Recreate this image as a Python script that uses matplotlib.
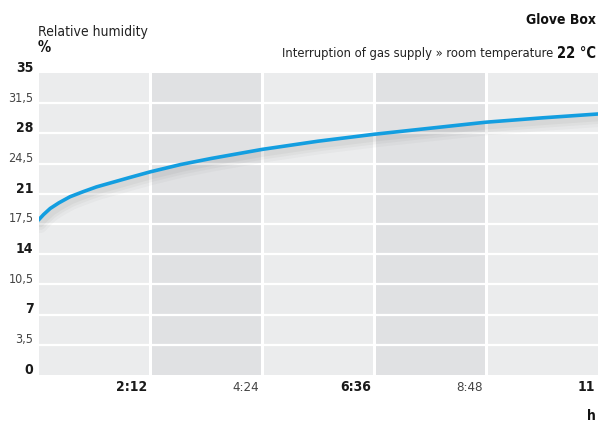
import matplotlib
matplotlib.use("Agg")
import matplotlib.pyplot as plt
import matplotlib.transforms as mtransforms

# values
hours = [0, 0.1, 0.23, 0.4, 0.62, 0.88, 1.14, 1.5, 1.8, 2.2, 2.8, 3.4, 4.4, 5.5, 6.6, 7.7, 8.8, 9.9, 11]
humidity = [17.96, 18.6, 19.3, 19.95, 20.66, 21.25, 21.8, 22.4, 22.9, 23.55, 24.4, 25.1,
            26.15, 27.1, 27.9, 28.6, 29.3, 29.8, 30.25]

y_ticks = [0, 3.5, 7, 10.5, 14, 17.5, 21, 24.5, 28, 31.5, 35]
y_labels = ["0", "3,5", "7", "10,5", "14", "17,5", "21", "24,5", "28", "31,5", "35"]
x_ticks = [2.2, 4.4, 6.6, 8.8, 11.0]
x_labels = ["2:12", "4:24", "6:36", "8:48", "11"]

plt.rcParams['font.family'] = ['DejaVu Sans']
plt.rcParams['font.stretch'] = 'condensed'

fig = plt.figure(figsize=(5.98, 4.23), dpi=100)
ax = fig.add_axes([38.5 / 598, 48 / 423, 1 - 38.5 / 598, 302 / 423])

# alternating column bands
band_edges = [0] + x_ticks
for i in range(len(band_edges) - 1):
    col = "#ebeced" if i % 2 == 0 else "#e0e1e3"
    ax.axvspan(band_edges[i], band_edges[i + 1], color=col, lw=0, zorder=0)

for yv in y_ticks[1:-1]:
    ax.axhline(yv, color="white", lw=1.6, zorder=1)
for xv in x_ticks[:-1]:
    ax.axvline(xv, color="white", lw=2.2, zorder=1)

# soft shadow under the curve
for dy, a, w in [(6, 0.035, 10), (5, 0.045, 7), (4, 0.05, 4.5)]:
    shift = mtransforms.offset_copy(ax.transData, fig=fig, x=2, y=-dy, units="dots")
    ax.plot(hours, humidity, color="#444444", alpha=a, lw=w, solid_capstyle="round",
            zorder=2, transform=shift)
ax.plot(hours, humidity, color="#139ee0", lw=2.6, solid_capstyle="round", zorder=3)

ax.set_xlim(0, 11)
ax.set_ylim(0, 35)
for s in ax.spines.values():
    s.set_visible(False)
ax.set_xticks([])
ax.set_yticks([])

# y tick labels, bold for the integer ones
for yv, lab in zip(y_ticks, y_labels):
    bold = "," not in lab
    ax.text(-0.1, yv + 0.6, lab, ha="right", va="center", fontsize=10 if bold else 9,
            fontweight="bold" if bold else "normal", color="#1a1a1a" if bold else "#444444",
            clip_on=False)

for xv, lab in zip(x_ticks, x_labels):
    bold = lab in ("2:12", "6:36", "11")
    ax.text(xv - 0.06, -1.4, lab, ha="right", va="center", fontsize=10 if bold else 9.5,
            fontweight="bold" if bold else "normal", color="#1a1a1a" if bold else "#444444",
            clip_on=False)

fig.text(38 / 598, 1 - 32 / 423, "Relative humidity", fontsize=10, color="#222222", va="center", ha="left")
fig.text(38 / 598, 1 - 48 / 423, "%", fontsize=10.5, fontweight="bold", color="#111111", va="center", ha="left")
fig.text(596 / 598, 1 - 20 / 423, "Glove Box", fontsize=10, fontweight="bold", color="#111111", va="center", ha="right")
t_bold = fig.text(596 / 598, 1 - 53 / 423, "22 °C", fontsize=10.5, fontweight="bold", color="#111111",
                  va="center", ha="right")
fig.add_artist(matplotlib.text.Annotation("Interruption of gas supply » room temperature ", xy=(0, 0.5),
                                          xycoords=t_bold, fontsize=9.3, color="#222222",
                                          va="center", ha="right"))
fig.text(596 / 598, 1 - 416 / 423, "h", fontsize=10, fontweight="bold", color="#111111", va="center", ha="right")

fig.savefig("out.png", dpi=100)
